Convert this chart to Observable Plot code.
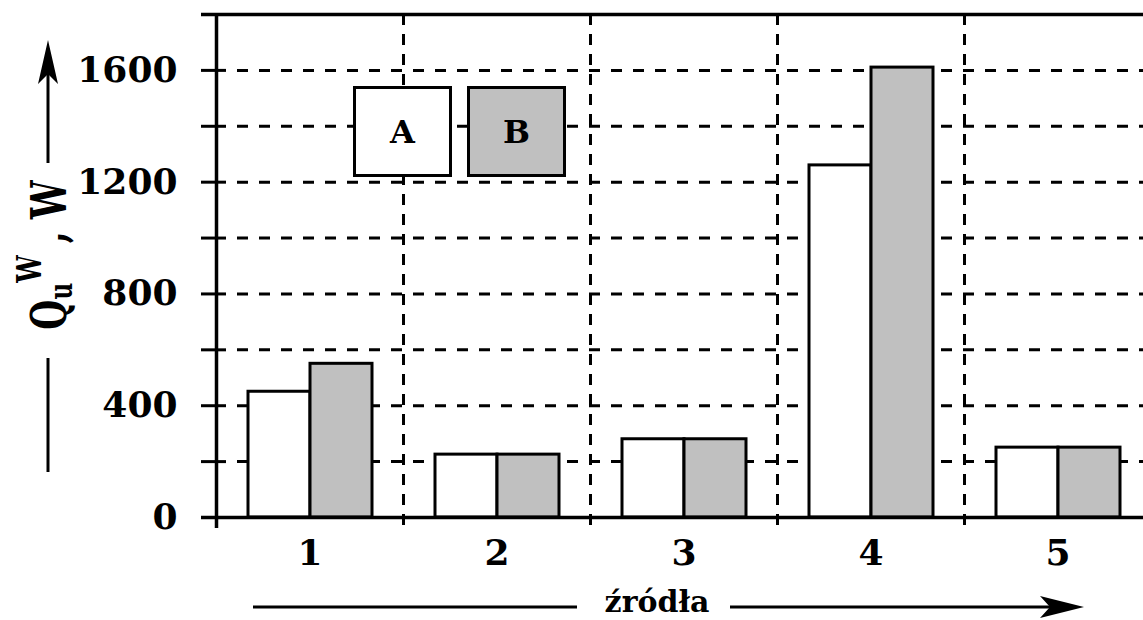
<!DOCTYPE html>
<html><head><meta charset="utf-8">
<script src="https://cdn.jsdelivr.net/npm/d3@7"></script>
<script src="https://cdn.jsdelivr.net/npm/@observablehq/plot@0.6"></script>
<style>
body{margin:0;background:#fff;}
#wrap{position:relative;width:1143px;height:620px;overflow:hidden;background:#fff;}
#wrap svg.plot{position:absolute;left:0;top:0;}
.leg{position:absolute;box-sizing:border-box;border:3px solid #000;display:flex;align-items:center;justify-content:center;font:bold 32px "DejaVu Serif",serif;color:#000;}
#deco{position:absolute;left:0;top:0;pointer-events:none;}
</style></head><body><div id="wrap"></div>
<script>
const sources = ["1", "2", "3", "4", "5"];
const seriesA = [450, 225, 280, 1260, 250];
const seriesB = [550, 225, 280, 1610, 250];
const labelTicks = [0, 400, 800, 1200, 1600];
const minorTicks = [0, 200, 400, 600, 800, 1000, 1200, 1400, 1600];
const gridValues = [200, 400, 600, 800, 1000, 1200, 1400, 1600];
const legendNames = ["A", "B"];
const legendFills = ["#ffffff", "#c0c0c0"];
const xTitle = "źródła";

const dataA = sources.map((s, i) => ({source: s, value: seriesA[i]}));
const dataB = sources.map((s, i) => ({source: s, value: seriesB[i]}));
const font = {fontFamily: "DejaVu Serif", fontWeight: "bold"};

const chart = Plot.plot({
  width: 1143, height: 620,
  marginLeft: 216, marginTop: 14, marginBottom: 103, marginRight: 0,
  x: {domain: sources, range: [216, 1151], padding: 0},
  y: {domain: [0, 1800], range: [517, 14]},
  style: {fontFamily: "DejaVu Serif", fontWeight: "bold", color: "#000", background: "#fff"},
  marks: [
    Plot.ruleY(gridValues, {stroke: "#000", strokeWidth: 3, strokeDasharray: "11,11", strokeDashoffset: 11, insetLeft: 10}),
    Plot.ruleX(sources.slice(1), {dx: -93.5, y1: 1800, y2: 0, insetBottom: -11, stroke: "#000", strokeWidth: 3, strokeDasharray: "11,9"}),
    Plot.ruleY(minorTicks, {insetLeft: -15, insetRight: 917, stroke: "#000", strokeWidth: 3}),
    Plot.ruleY([1800], {insetLeft: -15, stroke: "#000", strokeWidth: 3.5}),
    Plot.barY(dataA, {x: "source", y: "value", fill: legendFills[0], stroke: "#000", strokeWidth: 3, insetLeft: 32, insetRight: 93}),
    Plot.barY(dataB, {x: "source", y: "value", fill: legendFills[1], stroke: "#000", strokeWidth: 3, insetLeft: 94, insetRight: 31}),
    Plot.ruleY([0], {insetLeft: -15, stroke: "#000", strokeWidth: 3.5}),
    Plot.ruleX([sources[0]], {dx: -93.5, y1: 1800, y2: 0, insetBottom: -11, stroke: "#000", strokeWidth: 3.5}),
    Plot.axisY(labelTicks, {tickSize: 0, tickPadding: 39, fontSize: 36, tickFormat: d => String(d), ...font, label: null}),
    Plot.axisX({tickSize: 0, tickPadding: 22, fontSize: 36, ...font, label: null})
  ]
});
chart.classList.add("plot");
const wrap = document.getElementById("wrap");
wrap.appendChild(chart);

// legend boxes
const legPos = [[353, 86], [467, 86]];
legendNames.forEach((n, i) => {
  const d = document.createElement("div");
  d.className = "leg";
  d.style.left = legPos[i][0] + "px";
  d.style.top = legPos[i][1] + "px";
  d.style.width = "99px";
  d.style.height = "91px";
  d.style.background = legendFills[i];
  d.textContent = n;
  wrap.appendChild(d);
});

// axis titles with arrows
const ns = "http://www.w3.org/2000/svg";
const deco = document.createElementNS(ns, "svg");
deco.setAttribute("id", "deco");
deco.setAttribute("width", 1143);
deco.setAttribute("height", 620);
deco.innerHTML = `
  <g stroke="#000" stroke-width="3">
    <line x1="48" y1="70" x2="48" y2="163"/>
    <line x1="48" y1="358" x2="48" y2="472"/>
    <line x1="253" y1="607" x2="577" y2="607"/>
    <line x1="730" y1="607" x2="1055" y2="607"/>
  </g>
  <path d="M48,40 L58,84 L48,74 L38,84 Z" fill="#000"/>
  <path d="M1084,607 L1040,596 L1050,607 L1040,618 Z" fill="#000"/>
  <text x="657" y="612" text-anchor="middle" font-family="DejaVu Serif" font-weight="bold" font-size="30">${xTitle}</text>
  <text transform="translate(66,255) rotate(-90) scale(0.72,1)" text-anchor="middle" font-family="DejaVu Serif" font-weight="bold" font-size="48">Q<tspan font-size="32" dy="6">u</tspan><tspan font-size="34" dy="-31">W</tspan><tspan dy="25"> , W</tspan></text>
`;
wrap.appendChild(deco);
</script>
</body></html>
